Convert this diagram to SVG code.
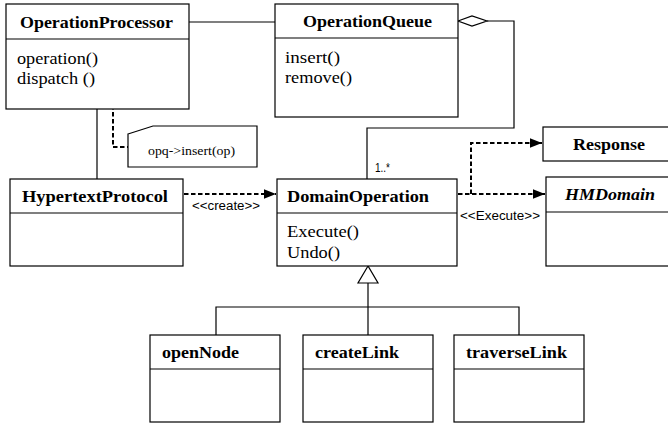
<svg xmlns="http://www.w3.org/2000/svg" width="668" height="423" viewBox="0 0 668 423">
<defs>
<style>
.box{fill:#fff;stroke:#000;stroke-width:1.2}
.ln{fill:none;stroke:#000;stroke-width:1.2}
.dash{fill:none;stroke:#000;stroke-width:2;stroke-dasharray:4.5 2.5}
.t{font-family:"Liberation Serif","Times New Roman",serif;font-weight:bold;font-size:17px;fill:#000}
.ti{font-family:"Liberation Serif","Times New Roman",serif;font-weight:bold;font-style:italic;font-size:17px;fill:#000}
.m{font-family:"Liberation Serif","Times New Roman",serif;font-size:16px;fill:#000}
.n{font-family:"Liberation Serif","Times New Roman",serif;font-size:12.5px;fill:#000}
.s{font-family:"Liberation Sans",Arial,sans-serif;font-size:12px;fill:#000}
</style>
<marker id="arr" markerUnits="userSpaceOnUse" markerWidth="12" markerHeight="12" viewBox="0 0 10 10" refX="10" refY="5" orient="auto">
<path d="M0,1 L10,5 L0,9 Z" fill="#000"/>
</marker>
</defs>

<g id="connectors">
<line class="ln" x1="189" y1="22" x2="275" y2="22"/>
<line class="ln" x1="97" y1="109" x2="97" y2="179"/>
<polygon points="458,21 472,16 487,21 472,26" fill="#fff" stroke="#000" stroke-width="1.2"/>
<polyline class="ln" points="487,21 514,21 514,128 367,128 367,179"/>
<text class="s" x="375" y="172" font-size="10.5" textLength="15" lengthAdjust="spacingAndGlyphs">1..*</text>
<circle cx="113" cy="60" r="2.8" fill="#fff" stroke="#000" stroke-width="1.2"/>
<polyline class="dash" points="113,63 113,147 128,147" stroke-width="1.6"/>
<line class="dash" x1="184" y1="194" x2="276" y2="194" marker-end="url(#arr)"/>
<text class="s" x="192" y="210" textLength="68" lengthAdjust="spacingAndGlyphs">&lt;&lt;create&gt;&gt;</text>
<line class="dash" x1="458" y1="194" x2="545" y2="194" marker-end="url(#arr)"/>
<polyline class="dash" points="471,194 471,143 542,143" marker-end="url(#arr)"/>
<text class="s" x="460" y="220" textLength="80" lengthAdjust="spacingAndGlyphs">&lt;&lt;Execute&gt;&gt;</text>
<polyline class="ln" points="216,335 216,307 519,307 519,335"/>
<line class="ln" x1="368" y1="283" x2="368" y2="335"/>
<polygon points="368,266 358,283 378,283" fill="#fff" stroke="#000" stroke-width="1.2"/>
</g>

<g id="OperationProcessor">
<rect class="box" x="6" y="4" width="183" height="105"/>
<line class="ln" x1="6" y1="39" x2="189" y2="39"/>
<text class="t" x="20" y="28" textLength="153" lengthAdjust="spacingAndGlyphs">OperationProcessor</text>
<text class="m" x="17" y="64" textLength="81" lengthAdjust="spacingAndGlyphs">operation()</text>
<text class="m" x="17" y="84" textLength="78" lengthAdjust="spacingAndGlyphs">dispatch ()</text>
</g>

<g id="OperationQueue">
<rect class="box" x="275" y="4" width="183" height="113"/>
<line class="ln" x1="275" y1="38" x2="458" y2="38"/>
<text class="t" x="303" y="27" textLength="129" lengthAdjust="spacingAndGlyphs">OperationQueue</text>
<text class="m" x="285" y="63" textLength="55" lengthAdjust="spacingAndGlyphs">insert()</text>
<text class="m" x="285" y="83" textLength="67" lengthAdjust="spacingAndGlyphs">remove()</text>
</g>

<g id="note">
<polygon points="128,134 153,126 257,126 257,167 128,167" fill="#fff" stroke="#000" stroke-width="1.2"/>
<text class="n" x="148" y="155" textLength="87" lengthAdjust="spacingAndGlyphs">opq-&gt;insert(op)</text>
</g>

<g id="HypertextProtocol">
<rect class="box" x="10" y="179" width="173" height="87"/>
<line class="ln" x1="10" y1="213" x2="183" y2="213"/>
<text class="t" x="22" y="202" textLength="146" lengthAdjust="spacingAndGlyphs">HypertextProtocol</text>
</g>

<g id="DomainOperation">
<rect class="box" x="277" y="179" width="180" height="87"/>
<line class="ln" x1="277" y1="213" x2="457" y2="213"/>
<text class="t" x="287" y="202" textLength="142" lengthAdjust="spacingAndGlyphs">DomainOperation</text>
<text class="m" x="287" y="237" textLength="72" lengthAdjust="spacingAndGlyphs">Execute()</text>
<text class="m" x="287" y="258" textLength="53" lengthAdjust="spacingAndGlyphs">Undo()</text>
</g>

<g id="Response">
<rect class="box" x="543" y="127" width="140" height="34"/>
<text class="t" x="573" y="150" textLength="72" lengthAdjust="spacingAndGlyphs">Response</text>
</g>

<g id="HMDomain">
<rect class="box" x="546" y="177" width="140" height="89"/>
<line class="ln" x1="546" y1="212" x2="686" y2="212"/>
<text class="ti" x="565" y="200" textLength="90" lengthAdjust="spacingAndGlyphs">HMDomain</text>
</g>

<g id="openNode">
<rect class="box" x="150" y="335" width="130" height="87"/>
<line class="ln" x1="150" y1="369" x2="280" y2="369"/>
<text class="t" x="162" y="358" textLength="77" lengthAdjust="spacingAndGlyphs">openNode</text>
</g>

<g id="createLink">
<rect class="box" x="303" y="335" width="130" height="87"/>
<line class="ln" x1="303" y1="369" x2="433" y2="369"/>
<text class="t" x="315" y="358" textLength="84" lengthAdjust="spacingAndGlyphs">createLink</text>
</g>

<g id="traverseLink">
<rect class="box" x="454" y="335" width="130" height="87"/>
<line class="ln" x1="454" y1="369" x2="584" y2="369"/>
<text class="t" x="466" y="358" textLength="101" lengthAdjust="spacingAndGlyphs">traverseLink</text>
</g>
</svg>
